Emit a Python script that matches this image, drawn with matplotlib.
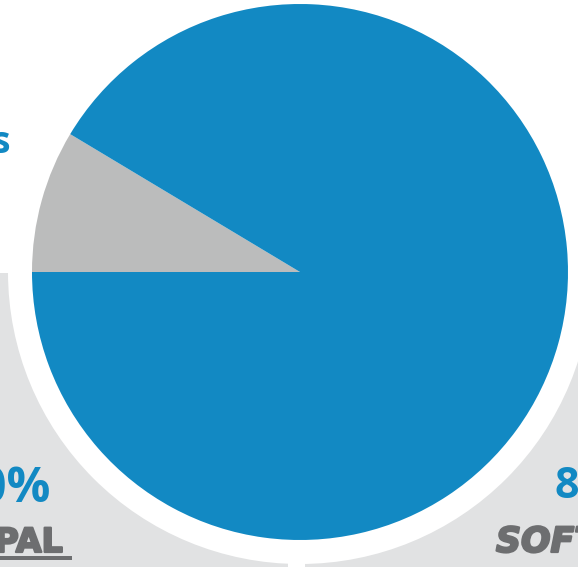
import matplotlib
matplotlib.use("Agg")
import matplotlib.pyplot as plt
import matplotlib.patheffects as pe
from matplotlib.patches import Rectangle, Circle

# Share of each segment
segments = ["Other", "Main"]
shares = [8.6, 91.4]
colors = ["#BBBCBC", "#1289C3"]

W, H = 578, 567
fig = plt.figure(figsize=(W / 100, H / 100), dpi=100)
ax = fig.add_axes([0, 0, 1, 1])
ax.set_xlim(0, W)
ax.set_ylim(0, H)
ax.set_aspect("equal")
ax.axis("off")

cx, cy, r = 300, H - 272, 268

# background panels
ax.add_patch(Rectangle((0, 0), 288, H - 273, facecolor="#E1E2E3", edgecolor="none", zorder=0))
ax.add_patch(Rectangle((305, 0), W - 305, H - 273, facecolor="#E1E2E3", edgecolor="none", zorder=0))

# white halo around the pie
ax.add_patch(Circle((cx, cy), 292, facecolor="white", edgecolor="none", zorder=1))

wedges, _ = ax.pie(shares, colors=colors, startangle=180 - 360 * shares[0] / 100,
                   counterclock=True, center=(cx, cy), radius=r,
                   wedgeprops=dict(linewidth=0))
for w in wedges:
    w.set_zorder(2)
ax.set_xlim(0, W)
ax.set_ylim(0, H)

blue = "#1289C3"
grey = "#6D6E70"
label_font = "Open Sans"
brand_font = "DejaVu Sans"
heavy = [pe.withStroke(linewidth=1.6, foreground=grey)]

ax.text(10, H - 153, "s", color=blue, fontsize=27, fontweight="bold",
        family=label_font, ha="right", va="baseline", zorder=3)
ax.text(574, H - 157, "B", color="#EFEFF0", fontsize=40, fontweight="bold",
        family=label_font, ha="left", va="baseline", zorder=0)

ax.text(51, H - 502, "90%", color=blue, fontsize=35, fontweight="bold",
        family=label_font, ha="right", va="baseline", zorder=3)
ax.text(554, H - 498, "8", color=blue, fontsize=31, fontweight="bold",
        family=label_font, ha="left", va="baseline", zorder=3)

ax.text(63, H - 552, "PAL", color=grey, fontsize=24, fontweight="bold",
        family=brand_font, ha="right", va="baseline", zorder=3, path_effects=heavy)
ax.add_patch(Rectangle((0, H - 560), 72, 4, facecolor=grey, edgecolor="none", zorder=3))
ax.text(496, H - 552, "SOFT", color=grey, fontsize=25, fontweight="bold",
        family=brand_font, style="italic", ha="left", va="baseline", zorder=3,
        path_effects=heavy)

fig.savefig("out.png", dpi=100)
